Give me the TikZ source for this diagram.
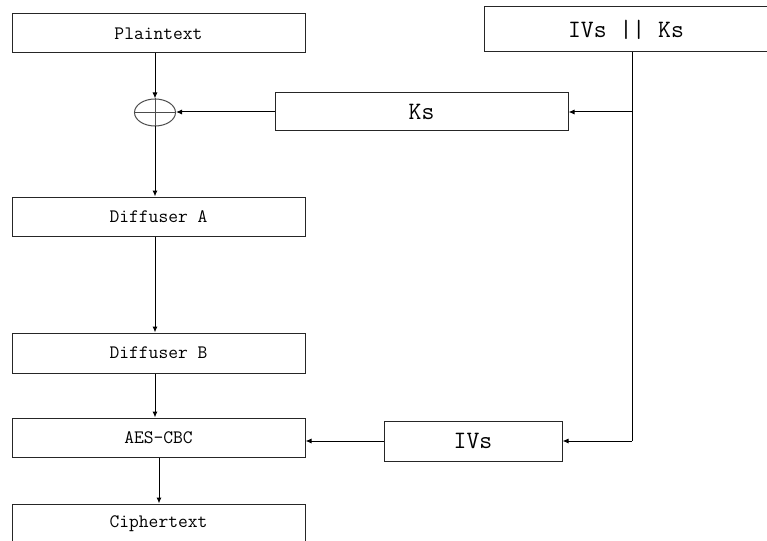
\documentclass[tikz,border=0pt]{standalone}
\usetikzlibrary{arrows.meta,shapes.geometric}
\begin{document}
\begin{tikzpicture}[x=1pt,y=-1pt, line width=1pt,
  box/.style={draw=black!85, rectangle, inner sep=0pt, minimum width=293pt, minimum height=39pt, font=\fontsize{19}{20}\selectfont\ttfamily},
  bigbox/.style={box, font=\fontsize{25}{27}\selectfont\ttfamily},
  xorst/.style={draw=black!70, ellipse, inner sep=0pt, minimum width=41pt, minimum height=27pt},
  arr/.style={-{Latex[length=6pt,width=5pt]}}]
\useasboundingbox (0,0) rectangle (767,540);
\node[box] (plain) at (158.5,33.5) {Plaintext};
\node[bigbox, minimum width=284pt, minimum height=45pt] (ivks) at (626,29.5) {IVs || Ks};
\node[bigbox, minimum height=38pt] (ks) at (421.5,112) {Ks};
\node[xorst] (xor) at (155,112.5) {};
\node[box] (diffA) at (158.5,216.5) {Diffuser A};
\node[box, minimum height=40pt] (diffB) at (158.5,353) {Diffuser B};
\node[box] (aes) at (158.5,437.5) {AES-CBC};
\node[bigbox, minimum width=178pt, minimum height=40pt] (ivs) at (473,441) {IVs};
\node[box, minimum height=40pt] (cipher) at (158.5,524) {Ciphertext};
\coordinate (j1) at (632,112);
\coordinate (j2) at (632,441);
% xor cross
\draw[black!70] (xor.west) -- (xor.east);
\draw[black!70] (xor.north) -- (xor.south);
% vertical flow
\draw[arr] (xor |- plain.south) -- (xor.north);
\draw[arr] (xor.south) -- (xor.south |- diffA.north);
\draw[arr] (xor |- diffA.south) -- (xor |- diffB.north);
\draw[arr] (xor |- diffB.south) -- (xor |- aes.north);
\draw[arr] ([xshift=0.5pt]aes.south) -- ([xshift=0.5pt]aes.south |- cipher.north);
% key path
\draw[arr] (ks.west) -- (ks.west -| xor.east);
\draw (ivks.south -| j1) -- (j1) -- (j2);
\draw[arr] (j1) -- (ks.east);
\draw[arr] (j2) -- (ivs.east);
\draw[arr] (ivs.west) -- (ivs.west -| aes.east);
\end{tikzpicture}
\end{document}
